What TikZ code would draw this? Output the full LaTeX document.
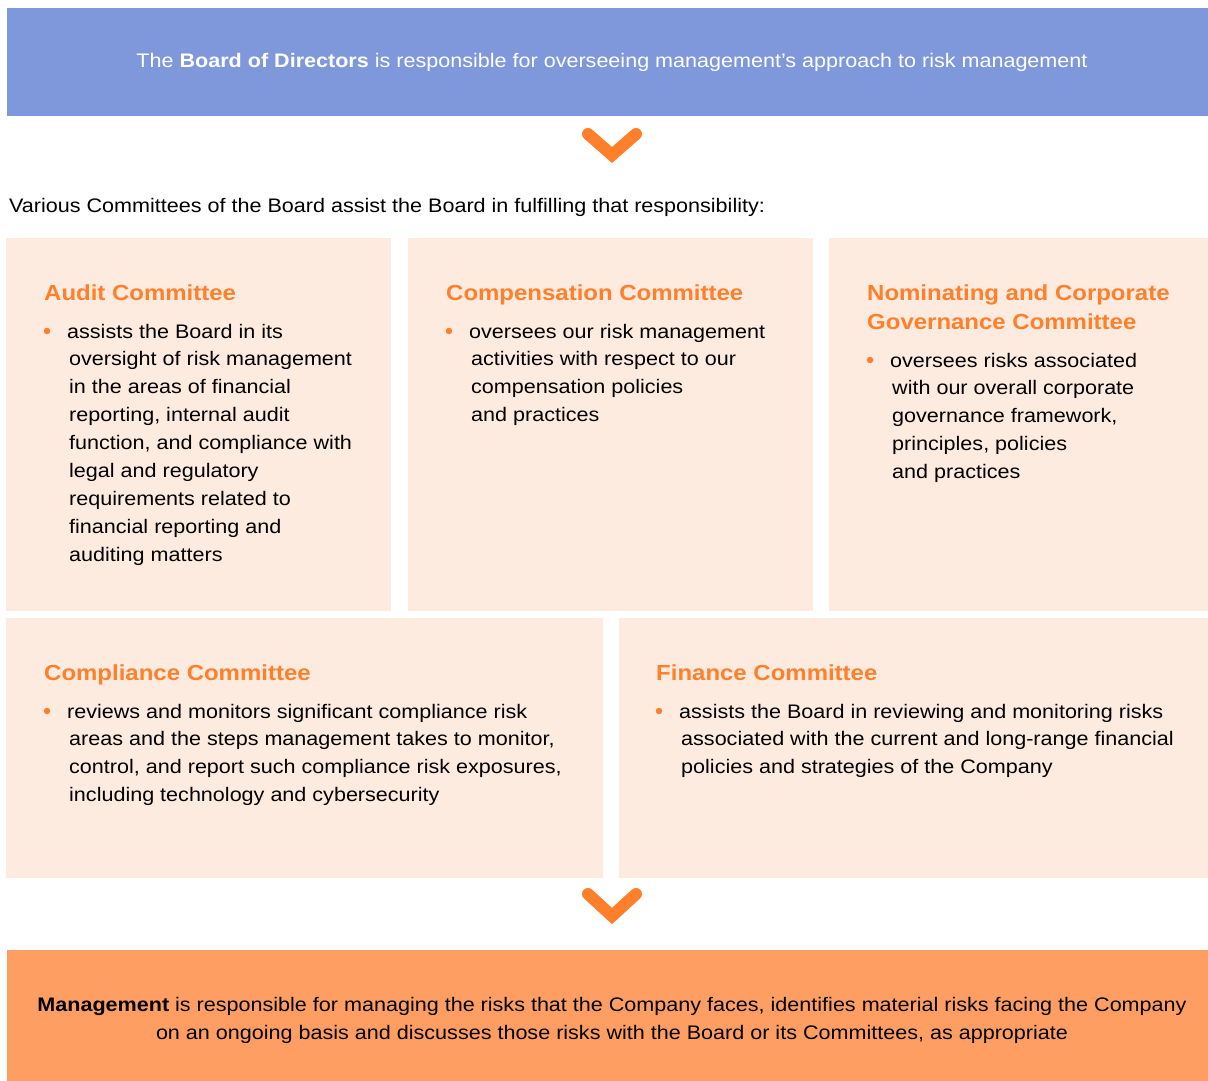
\documentclass[tikz,border=0pt]{standalone}
\usepackage{fontspec}
\setmainfont{Liberation Sans}[FakeStretch=1.1]
\definecolor{boardblue}{HTML}{7F98DC}
\definecolor{peach}{HTML}{FDEBE0}
\definecolor{orangeT}{HTML}{FF7F2A}
\definecolor{mgmt}{HTML}{FF9E63}
\begin{document}
\begin{tikzpicture}[x=1pt,y=-1pt]
\tikzset{
  panel/.style={fill=peach, draw=none, anchor=north west, inner sep=0pt, outer sep=0pt},
  band/.style={draw=none, anchor=north west, inner sep=0pt, outer sep=0pt, minimum width=1201pt},
  ttl/.style={anchor=base west, inner sep=0pt, text=orangeT, font=\fontsize{21.8}{29}\selectfont\bfseries, align=left},
  body/.style={anchor=base west, inner sep=0pt, font=\fontsize{19.6}{27.9}\selectfont, align=left},
  bdot/.style={circle, fill=orangeT, inner sep=0pt, minimum size=6.5pt},
  chev/.style={draw=orangeT, line width=12pt, line cap=round, line join=miter},
}
\useasboundingbox (0,0) rectangle (1208,1081);
\fill[white] (0,0) rectangle (1208,1081);
% Board
\node[band, fill=boardblue, minimum height=108pt] (board) at (7,8) {};
\node[body, anchor=base, text=white] (boardtxt) at (612,68) {The \textbf{Board of Directors} is responsible for overseeing management’s approach to risk management};
% chevron 1
\coordinate (c1a) at (588,134);
\coordinate (c1b) at (612,155);
\coordinate (c1c) at (636,134);
\draw[chev] (c1a) -- (c1b) -- (c1c);
\node[body] (various) at (9,212) {Various Committees of the Board assist the Board in fulfilling that responsibility:};
% row 1
\node[panel, minimum width=385pt, minimum height=373pt] (audit) at (6,238) {};
\node[panel, minimum width=405pt, minimum height=373pt] (comp) at (408,238) {};
\node[panel, minimum width=379pt, minimum height=373pt] (nom) at (829,238) {};
% row 2
\node[panel, minimum width=597pt, minimum height=260pt] (compl) at (6,618) {};
\node[panel, minimum width=589pt, minimum height=260pt] (fin) at (619,618) {};
% Audit (multi-line nodes are placed by the baseline of their last line)
\node[ttl] (auditT) at (44,300) {Audit Committee};
\node[bdot] (auditD) at (47,331) {};
\node[body] (auditB) at (67,561.2) {assists the Board in its\\
\hspace*{2pt}oversight of risk management\\
\hspace*{2pt}in the areas of financial\\
\hspace*{2pt}reporting, internal audit\\
\hspace*{2pt}function, and compliance with\\
\hspace*{2pt}legal and regulatory\\
\hspace*{2pt}requirements related to\\
\hspace*{2pt}financial reporting and\\
\hspace*{2pt}auditing matters};
% Compensation
\node[ttl] (compT) at (446,300) {Compensation Committee};
\node[bdot] (compD) at (449,331) {};
\node[body] (compB) at (469,421.7) {oversees our risk management\\
\hspace*{2pt}activities with respect to our\\
\hspace*{2pt}compensation policies\\
\hspace*{2pt}and practices};
% Nominating
\node[ttl] (nomT) at (867,329) {Nominating and Corporate\\Governance Committee};
\node[bdot] (nomD) at (870,360) {};
\node[body] (nomB) at (890,478.6) {oversees risks associated\\
\hspace*{2pt}with our overall corporate\\
\hspace*{2pt}governance framework,\\
\hspace*{2pt}principles, policies\\
\hspace*{2pt}and practices};
% Compliance
\node[ttl] (complT) at (44,680) {Compliance Committee};
\node[bdot] (complD) at (47,711) {};
\node[body] (complB) at (67,801.7) {reviews and monitors significant compliance risk\\
\hspace*{2pt}areas and the steps management takes to monitor,\\
\hspace*{2pt}control, and report such compliance risk exposures,\\
\hspace*{2pt}including technology and cybersecurity};
% Finance
\node[ttl] (finT) at (656,680) {Finance Committee};
\node[bdot] (finD) at (659,711) {};
\node[body] (finB) at (679,773.8) {assists the Board in reviewing and monitoring risks\\
\hspace*{2pt}associated with the current and long-range financial\\
\hspace*{2pt}policies and strategies of the Company};
% chevron 2
\coordinate (c2a) at (588,894);
\coordinate (c2b) at (612,916);
\coordinate (c2c) at (636,894);
\draw[chev] (c2a) -- (c2b) -- (c2c);
% Management
\node[band, fill=mgmt, minimum height=131pt] (mgmt) at (7,950) {};
\node[body, anchor=base, align=center] (mgmttxt) at (612,1039.5) {\textbf{Management} is responsible for managing the risks that the Company faces, identifies material risks facing the Company\\on an ongoing basis and discusses those risks with the Board or its Committees, as appropriate};
\end{tikzpicture}
\end{document}
